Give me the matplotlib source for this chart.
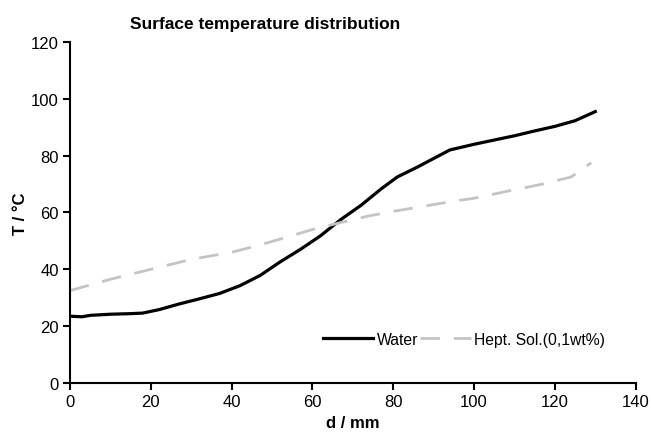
import matplotlib
matplotlib.use("Agg")
import matplotlib.pyplot as plt

plt.rcParams['font.family'] = ['Liberation Sans', 'DejaVu Sans']

water_d = [0, 3, 5, 10, 15, 18, 22, 27, 32, 37, 42, 47, 52, 57, 62, 67, 72, 77, 81, 86, 90, 94, 100, 105, 110, 115, 120, 125, 130]
water_T = [23.5, 23.3, 23.8, 24.2, 24.4, 24.6, 25.8, 27.8, 29.6, 31.5, 34.2, 37.8, 42.6, 47.0, 51.8, 57.5, 62.5, 68.3, 72.5, 76.0, 79.0, 82.0, 84.0, 85.5, 87.0, 88.7, 90.3, 92.3, 95.5]

hept_d = [0, 10, 20, 30, 40, 46, 50, 60, 70, 74, 80, 88, 95, 100, 110, 117, 124, 129]
hept_T = [32.5, 36.5, 40.0, 43.5, 46.0, 48.2, 49.8, 54.0, 57.5, 58.8, 60.4, 62.3, 64.0, 65.0, 68.0, 70.0, 72.5, 77.5]

x_ticks = [0, 20, 40, 60, 80, 100, 120, 140]
y_ticks = [0, 20, 40, 60, 80, 100, 120]

fig = plt.figure(figsize=(6.51, 4.39), dpi=100)
ax = fig.add_axes([0.1075, 0.1253, 0.869, 0.7768])

ax.plot(water_d, water_T, color='black', lw=2.3, label='Water')
ax.plot(hept_d, hept_T, color='#c4c4c4', lw=2.0, dashes=(7, 5), label='Hept. Sol.(0,1wt%)')

ax.set_xlim(0, 140)
ax.set_ylim(0, 120)
ax.set_xticks(x_ticks)
ax.set_yticks(y_ticks)
for s in ['top', 'right']:
    ax.spines[s].set_visible(False)
for s in ['left', 'bottom']:
    ax.spines[s].set_linewidth(1.5)
ax.tick_params(direction='out', length=5, width=1.5, labelsize=12, pad=3)

fig.text(0.407, 0.945, 'Surface temperature distribution', fontsize=12.5,
         fontweight='bold', ha='center', va='center')
ax.set_xlabel('d / mm', fontsize=12, fontweight='bold', labelpad=4)
ax.set_ylabel('T / °C', fontsize=12, fontweight='bold')
ax.yaxis.set_label_coords(-0.075, 0.5)

ax.legend(loc='lower right', bbox_to_anchor=(0.97, 0.065), ncol=2, frameon=False,
          fontsize=11.3, handlelength=3.2, columnspacing=0.15, handletextpad=0.2)

fig.savefig('out.png', dpi=100)
